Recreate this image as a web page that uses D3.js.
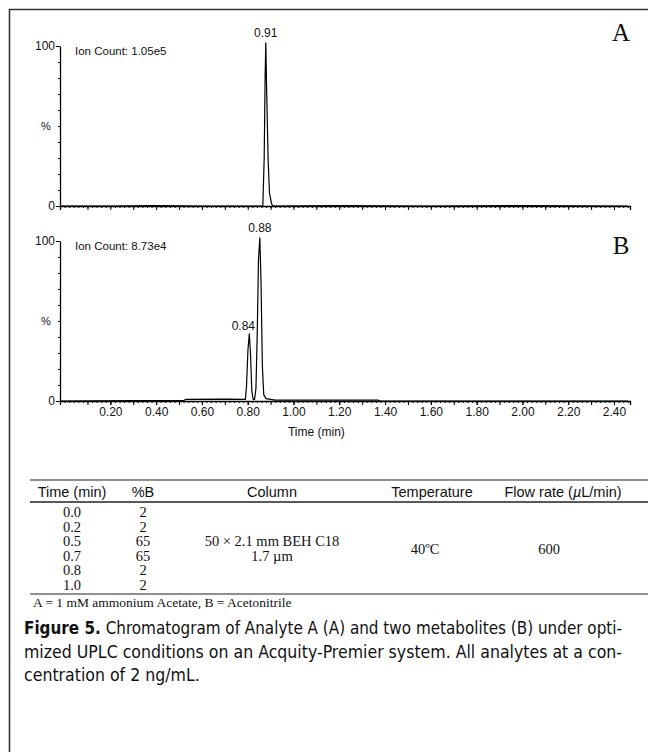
<!DOCTYPE html>
<html>
<head>
<meta charset="utf-8">
<script src="https://cdn.jsdelivr.net/npm/d3@7"></script>
<style>
  body { margin: 0; background: #fff; }
  svg text { fill: #111; }
</style>
</head>
<body>
<script>
// Chromatogram A (analyte), time in min vs relative intensity in %
const timeA = [-0.02, 0.20, 0.40, 0.60, 0.866, 0.872, 0.876, 0.879, 0.883, 0.889, 0.895, 0.905, 0.912, 1.20, 1.60, 2.00, 2.46];
const pctA  = [0, 0, 0.3, 0, 0, 30, 80, 102, 70, 30, 8, 1, 0, 0.3, 0, 0.3, 0];

// Chromatogram B (two metabolites)
const timeB = [-0.02, 0.30, 0.52, 0.53, 0.70, 0.79, 0.795, 0.801, 0.807, 0.812, 0.818, 0.824, 0.830, 0.836, 0.842, 0.847, 0.853, 0.858, 0.864, 0.870, 0.880, 0.90, 0.92, 1.37, 1.38, 2.46];
const pctB  = [0, 0.3, 0.3, 1, 1.2, 1, 10, 32, 42, 30, 6, 1, 1, 8, 45, 88, 102, 75, 22, 4, 1.5, 1, 0.5, 0.5, 0, 0];

const peakLabelsA = [{ t: 0.879, v: 102, text: "0.91" }];
const peakLabelsB = [{ t: 0.807, v: 42, text: "0.84" }, { t: 0.853, v: 102, text: "0.88" }];

const xLabelTicks = [0.2, 0.4, 0.6, 0.8, 1.0, 1.2, 1.4, 1.6, 1.8, 2.0, 2.2, 2.4];

// Gradient table
const tableHeaders = ["Time (min)", "%B", "Column", "Temperature", "Flow rate (µL/min)"];
const gradTimes = ["0.0", "0.2", "0.5", "0.7", "0.8", "1.0"];
const gradB = ["2", "2", "65", "65", "2", "2"];
const columnText = ["50 × 2.1 mm BEH C18", "1.7 µm"];
const temperature = "40ºC";
const flowRate = "600";
const footnote = "A = 1 mM ammonium Acetate, B = Acetonitrile";
const captionLines = [
  ["Figure 5.", " Chromatogram of Analyte A (A) and two metabolites (B) under opti-"],
  ["", "mized UPLC conditions on an Acquity-Premier system. All analytes at a con-"],
  ["", "centration of 2 ng/mL."]
];

const [w, h] = [648, 752];
const sans = 'Liberation Sans, Arial, sans-serif';
const serif = 'Liberation Serif, Times New Roman, serif';

const svg = d3.select('body').append('svg')
    .attr('width', w)
    .attr('height', h);

// outer frame (left and top sides visible)
svg.append('path')
    .attr('d', `M9.5,${h} V9.5 H${w}`)
    .attr('fill', 'none')
    .attr('stroke', '#333')
    .attr('stroke-width', 1.6);

const x = d3.scaleLinear().domain([-0.02, 2.47]).range([60, 630]);

function drawPanel(top, bottom, times, pcts, peaks, letter, letterY, ionCount, showLabels) {
    const y = d3.scaleLinear().domain([0, 100]).range([bottom, top]);
    const g = svg.append('g').attr('font-family', sans);

    // y axis: minor every 10, major at 0 and 100
    g.append('g')
        .attr('transform', `translate(${x.range()[0]},0)`)
        .call(d3.axisLeft(y).tickValues(d3.range(10, 100, 10)).tickSize(2).tickFormat(''))
        .call(a => a.select('.domain').remove());
    g.append('g')
        .attr('transform', `translate(${x.range()[0]},0)`)
        .call(d3.axisLeft(y).tickValues([0, 100]).tickSize(4).tickSizeOuter(0).tickPadding(1))
        .call(a => a.select('.domain').attr('stroke-width', 1.3))
        .call(a => a.selectAll('text').attr('font-size', 12).attr('fill', '#111'));
    g.append('text')
        .attr('x', 46).attr('y', y(50))
        .attr('dy', '0.35em')
        .attr('text-anchor', 'middle')
        .attr('font-size', 11)
        .text('%');

    // x axis: minor every 0.02, medium every 0.1
    g.append('g')
        .attr('transform', `translate(0,${bottom})`)
        .call(d3.axisBottom(x).tickValues(d3.range(0, 2.47, 0.02)).tickSize(2).tickFormat(''))
        .call(a => a.select('.domain').remove());
    g.append('g')
        .attr('transform', `translate(0,${bottom})`)
        .call(d3.axisBottom(x).tickValues(d3.range(0.1, 2.45, 0.1)).tickSize(4).tickSizeOuter(4).tickFormat(''))
        .call(a => a.select('.domain').attr('stroke-width', 1.3));
    if (showLabels) {
        g.append('g')
            .attr('transform', `translate(0,${bottom})`)
            .call(d3.axisBottom(x).tickValues(xLabelTicks).tickSize(4).tickPadding(2).tickFormat(d3.format('.2f')))
            .call(a => a.select('.domain').remove())
            .call(a => a.selectAll('text').attr('font-size', 12).attr('fill', '#111'));
    }

    // trace
    const line = d3.line()
        .x((d, i) => x(times[i]))
        .y(d => y(d));
    g.append('path')
        .datum(pcts)
        .attr('d', line)
        .attr('fill', 'none')
        .attr('stroke', '#000')
        .attr('stroke-width', 1.2)
        .attr('stroke-linejoin', 'round');

    // peak labels; a shorter peak gets its label nudged left of the apex
    g.selectAll('.peak')
        .data(peaks)
        .enter()
        .append('text')
        .attr('x', d => x(d.t) + (d.v < 90 ? -6 : 0))
        .attr('y', d => y(d.v) - (d.v < 90 ? 4 : 6))
        .attr('text-anchor', 'middle')
        .attr('font-size', 12)
        .text(d => d.text);

    g.append('text')
        .attr('x', 75).attr('y', top + 9)
        .attr('font-size', 11.5)
        .text('Ion Count: ' + ionCount);

    svg.append('text')
        .attr('x', 621).attr('y', letterY)
        .attr('text-anchor', 'middle')
        .attr('font-family', serif)
        .attr('font-size', 25)
        .text(letter);
}

drawPanel(46, 206, timeA, pctA, peakLabelsA, 'A', 41, '1.05e5', false);
drawPanel(241, 401, timeB, pctB, peakLabelsB, 'B', 254, '8.73e4', true);

svg.append('text')
    .attr('x', x(1.1)).attr('y', 436)
    .attr('text-anchor', 'middle')
    .attr('font-family', sans)
    .attr('font-size', 12)
    .text('Time (min)');

// gradient table
const colX = [72, 143, 272, 432, 563];
const rowY = d3.scaleBand().domain(d3.range(gradTimes.length)).range([505, 592]);

[480, 502, 594].forEach((ry, i) => {
    svg.append('line')
        .attr('x1', 30).attr('x2', w)
        .attr('y1', ry).attr('y2', ry)
        .attr('stroke', '#222')
        .attr('stroke-width', i === 1 ? 1.4 : 1.1);
});

svg.selectAll('.hdr')
    .data(tableHeaders)
    .enter()
    .append('text')
    .attr('x', (d, i) => colX[i])
    .attr('y', 497)
    .attr('text-anchor', 'middle')
    .attr('font-family', sans)
    .attr('font-size', 14.5)
    .each(function (d) {
        const t = d3.select(this);
        if (d.includes('µ')) {
            const [pre, post] = d.split('µ');
            t.append('tspan').text(pre);
            t.append('tspan').attr('font-style', 'italic').text('µ');
            t.append('tspan').text(post);
        } else {
            t.text(d);
        }
    });

const rowG = svg.append('g')
    .attr('font-family', serif)
    .attr('font-size', 14.5)
    .attr('text-anchor', 'middle');

rowG.selectAll('.t')
    .data(gradTimes)
    .enter()
    .append('text')
    .attr('x', colX[0])
    .attr('y', (d, i) => rowY(i) + rowY.bandwidth() / 2)
    .attr('dy', '0.35em')
    .text(d => d);

rowG.selectAll('.b')
    .data(gradB)
    .enter()
    .append('text')
    .attr('x', colX[1])
    .attr('y', (d, i) => rowY(i) + rowY.bandwidth() / 2)
    .attr('dy', '0.35em')
    .text(d => d);

rowG.selectAll('.c')
    .data(columnText)
    .enter()
    .append('text')
    .attr('x', colX[2])
    .attr('y', (d, i) => rowY(2) + rowY.bandwidth() / 2 + i * rowY.step())
    .attr('dy', '0.35em')
    .text(d => d);

rowG.append('text')
    .attr('x', 425)
    .attr('y', rowY(3))
    .attr('dy', '0.35em')
    .text(temperature);

rowG.append('text')
    .attr('x', 549)
    .attr('y', rowY(3))
    .attr('dy', '0.35em')
    .text(flowRate);

svg.append('text')
    .attr('x', 33).attr('y', 607)
    .attr('font-family', serif)
    .attr('font-size', 13.5)
    .text(footnote);

// caption: condensed to the column width, same squeeze on every line
const caps = svg.selectAll('.cap')
    .data(captionLines)
    .enter()
    .append('text')
    .attr('x', 24)
    .attr('y', (d, i) => 634 + i * 23.5)
    .attr('font-family', 'Liberation Sans Narrow, DejaVu Sans Condensed, Liberation Sans, sans-serif')
    .attr('font-size', 17)
    .each(function (d) {
        const t = d3.select(this);
        if (d[0]) t.append('tspan').attr('font-weight', 'bold').text(d[0]);
        t.append('tspan').text(d[1]);
    });
const squeeze = 598 / caps.nodes()[1].getComputedTextLength();
caps.each(function (d, i) {
    const len = i === 2 ? this.getComputedTextLength() * squeeze : 598;
    d3.select(this).attr('textLength', len).attr('lengthAdjust', 'spacingAndGlyphs');
});
</script>
</body>
</html>
